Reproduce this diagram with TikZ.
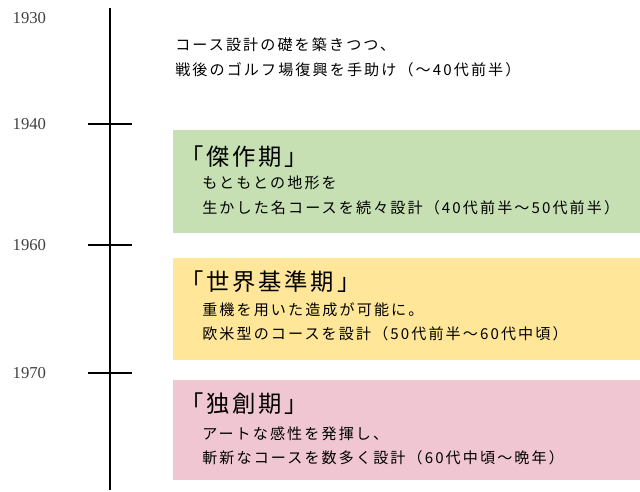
\documentclass[tikz,border=0pt]{standalone}
\usepackage{fontspec}
\setmainfont{Liberation Serif}
\newfontfamily\cjk[LetterSpace=14]{Noto Sans CJK JP}
\newfontfamily\cjkt[LetterSpace=12]{Noto Sans CJK JP}
\definecolor{gbox}{HTML}{C6E0B4}
\definecolor{ybox}{HTML}{FFE699}
\definecolor{pbox}{HTML}{EFC6D2}
\begin{document}
\begin{tikzpicture}[x=0.75pt,y=-0.75pt,
  yr/.style={anchor=west,font=\fontsize{12.5}{14}\selectfont,text=black!75},
  tick/.style={line width=1.8pt},
  body/.style={anchor=north west,align=left,inner sep=0pt,font=\cjk\fontsize{11.3}{18.5}\selectfont},
  ttl/.style={anchor=west,inner sep=0pt,font=\cjkt\fontsize{17.5}{18}\selectfont}]
\useasboundingbox (0,0) rectangle (640,492);
\fill[gbox] (173,130) rectangle (640,233);
\fill[ybox] (173,258) rectangle (640,360);
\fill[pbox] (173,380) rectangle (640,480);
\coordinate (top) at (110,8); \coordinate (bot) at (110,490);
\draw[tick] (top) -- (bot);
\foreach \y/\n in {124/a,245/b,373/c}{\draw[tick] (88,\y) -- (132,\y);}
\node[yr] (y1) at (8,18) {1930};
\node[yr] (y2) at (8,124) {1940};
\node[yr] (y3) at (8,245) {1960};
\node[yr] (y4) at (8,373) {1970};
\node[body] (t0) at (175,38) {コース設計の礎を築きつつ、\\戦後のゴルフ場復興を手助け（～40代前半）};
\node[ttl] (h1) at (180,157) {「傑作期」};
\node[body] (t1) at (202,176) {もともとの地形を\\生かした名コースを続々設計（40代前半～50代前半）};
\node[ttl] (h2) at (180,282) {「世界基準期」};
\node[body] (t2) at (202,302) {重機を用いた造成が可能に。\\欧米型のコースを設計（50代前半～60代中頃）};
\node[ttl] (h3) at (180,404) {「独創期」};
\node[body] (t3) at (202,426) {アートな感性を発揮し、\\斬新なコースを数多く設計（60代中頃～晩年）};
\end{tikzpicture}
\end{document}
